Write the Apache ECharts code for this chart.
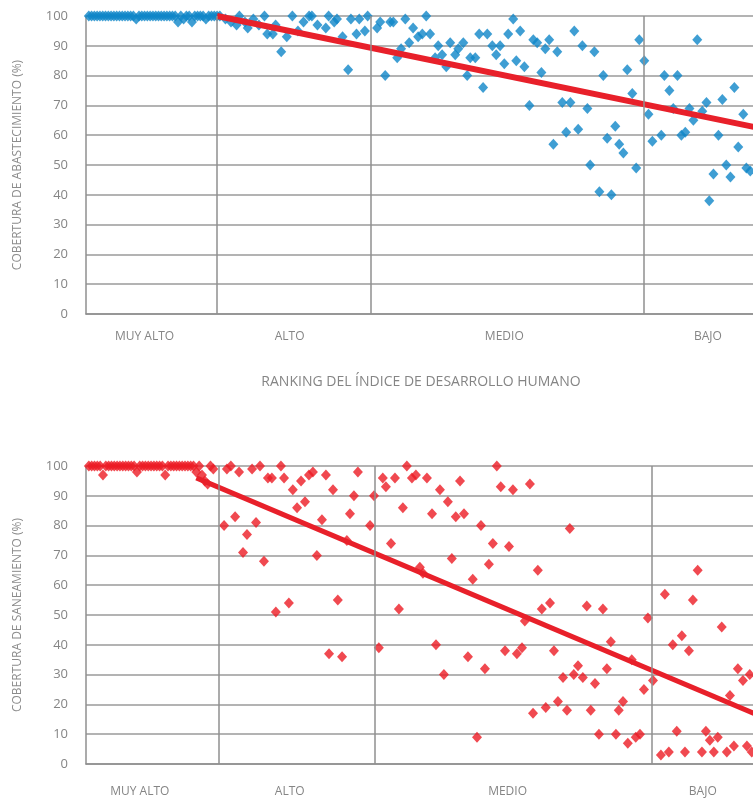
<!DOCTYPE html>
<html>
<head>
<meta charset="utf-8">
<script src="https://cdn.jsdelivr.net/npm/echarts@6/dist/echarts.min.js"></script>
<style>
  html, body { margin: 0; padding: 0; background: #ffffff; }
  #chart { width: 753px; height: 800px; }
</style>
</head>
<body>
<div id="chart"></div>
<script>
// HDI groups along the ranking axis
const categoryNames = ['MUY ALTO', 'ALTO', 'MEDIO', 'BAJO'];
const groupBreaks = [47, 102, 200];
const rankMax = 246;

// label anchor (rank) for each HDI group, per panel
const abastLabelRanks = [21, 73, 150, 223];
const saneaLabelRanks = [19, 72, 149, 218];

// Water supply coverage (%) — very high HDI, ranks 1..47
const abastMuyAlto = [100,100,100,100,100,100,100,100,100,100,100,100,100,100,100,100,100,99,
  100,100,100,100,100,100,100,100,100,100,100,100,100,100,98,100,99,100,100,98,100,100,100,100,99,
  100,100,100,100];
// [rank, coverage]
const abastAlto = [[48,100],[50,99],[52,98],[54,97],[55,100],[57,98],[58,96],[60,99],[62,97],[64,100],
  [65,94],[67,94],[68,97],[70,88],[72,93],[74,100],[76,95],[78,98],[80,100],[81,100],[83,97],[86,96],
  [87,100],[89,98],[90,99],[92,93],[94,82],[95,99],[97,94],[98,99],[100,95],[101,100]];
const abastMedio = [[104.4,96],[105.5,98],[107.3,80],[109.1,98],[110.2,98],[111.6,86],[113,89],[114.5,99],
  [115.9,91],[117.3,96],[119.1,93],[120.6,94],[122,100],[123.4,94],[125.2,86],[126.3,90],[127.7,87],
  [129.2,83],[130.6,91],[132.4,87],[133.5,89],[135.3,91],[136.7,80],[137.8,86],[139.6,86],[141,94],
  [142.4,76],[143.9,94],[145.7,90],[147.1,87],[148.5,90],[150,84],[151.4,94],[153.2,99],[154.3,85],
  [155.7,95],[157.2,83],[159,70],[160.4,92],[161.8,91],[163.3,81],[164.7,89],[166.1,92],[167.6,57],
  [169,88],[170.8,71],[172.2,61],[173.7,71],[175.1,95],[176.5,62],[178,90],[179.8,69],[180.8,50],
  [182.3,88],[184.1,41],[185.5,80],[186.9,59],[188.4,40],[189.8,63],[191.2,57],[192.7,54],[194.1,82],
  [195.9,74],[197.3,49],[198.4,92]];
const abastBajo = [[200.2,85],[201.7,67],[203.1,58],[206.3,60],[207.4,80],[209.2,75],[210.6,69],
  [212.1,80],[213.5,60],[214.9,61],[216.4,69],[217.8,65],[219.2,92],[221,68],[222.5,71],[223.5,38],
  [225,47],[226.8,60],[228.2,72],[229.6,50],[231.1,46],[232.5,76],[233.9,56],[235.7,67],[236.8,49],
  [238.2,48]];
// linear trend endpoints
const abastTrendRank = [47, 246];
const abastTrendValue = [100, 61.5];

// Sanitation coverage (%) — very high HDI, ranks 1..45
const saneaMuyAlto = [100,100,100,100,100,97,100,100,100,100,100,100,100,100,100,100,100,98,
  100,100,100,100,100,100,100,100,100,97,100,100,100,100,100,100,100,100,100,100,98,100,97,95,94,100,99];
const saneaAlto = [[48.8,80],[49.8,99],[51.2,100],[52.7,83],[54.1,98],[55.5,71],[56.9,77],[58.7,99],
  [60.1,81],[61.5,100],[62.9,68],[64.3,96],[65.7,96],[67.1,51],[68.9,100],[70,96],[71.7,54],[73.1,92],
  [74.6,86],[76,95],[77.4,88],[78.8,97],[80.2,98],[81.6,70],[83.4,82],[84.8,97],[85.9,37],[87.3,92],
  [89,55],[90.5,36],[92.2,75],[93.3,84],[94.7,90],[96.1,98],[100.4,80],[101.8,90]];
const saneaMedio = [[103.5,39],[104.9,96],[106,93],[107.8,74],[109.2,96],[110.6,52],[112,86],[113.4,100],
  [115.2,96],[116.6,97],[118,66],[119.1,64],[120.5,96],[122.3,84],[123.7,40],[125.1,92],[126.5,30],
  [127.9,88],[129.3,69],[130.7,83],[132.2,95],[133.6,84],[135,36],[136.7,62],[138.2,9],[139.6,80],
  [141,32],[142.4,67],[143.8,74],[145.2,100],[146.6,93],[148.1,38],[149.5,73],[150.9,92],[152.3,37],
  [154.1,39],[155.1,48],[156.9,94],[158,17],[159.7,65],[161.1,52],[162.5,19],[164,54],[165.4,38],
  [166.8,21],[168.6,29],[170,18],[171,79],[172.4,30],[173.9,33],[175.6,29],[177,53],[178.4,18],
  [179.9,27],[181.3,10],[182.7,52],[184.1,32],[185.5,41],[187.3,10],[188.3,18],[189.8,21],[191.5,7],
  [192.9,35],[194.3,9],[195.8,10],[197.2,25],[198.6,49],[200.4,28]];
const saneaBajo = [[203.2,3],[204.6,57],[206,4],[207.4,40],[208.8,11],[210.6,43],[211.7,4],[213.1,38],
  [214.5,55],[216.2,65],[217.7,4],[219.1,11],[220.5,8],[221.9,4],[223.3,9],[224.7,46],[226.5,4],
  [227.6,23],[229,6],[230.4,32],[232.2,28],[233.6,6],[234.6,30],[235.3,4]];
const saneaTrendRank = [39, 246];
const saneaTrendValue = [96, 13];

const FONT = 'Open Sans';
const GRID_COLOR = '#9a9a9a';
const TEXT_COLOR = '#858585';

function withRanks(values) {
  return values.map((v, i) => [i + 1, v]);
}
function pairs(xs, ys) {
  return xs.map((x, i) => [x, ys[i]]);
}

function buildPanel(idx, opt) {
  const xAxis = {
    gridIndex: idx, type: 'value', min: 0, max: rankMax,
    axisLine: { show: true, onZero: false, lineStyle: { color: '#8f8f8f', width: 1.5 } },
    axisTick: { show: false },
    splitLine: { show: false },
    axisLabel: {
      customValues: opt.labelRanks,
      formatter: v => categoryNames[opt.labelRanks.indexOf(v)] || '',
      color: TEXT_COLOR, fontSize: 12, fontFamily: FONT, margin: opt.labelMargin
    }
  };
  if (opt.xName) {
    Object.assign(xAxis, {
      name: opt.xName, nameLocation: 'middle', nameGap: 61,
      nameTextStyle: { color: TEXT_COLOR, fontSize: 14, fontFamily: FONT, padding: [0, 16, 0, 0] }
    });
  }
  const yAxis = {
    gridIndex: idx, type: 'value', min: 0, max: 100, interval: 10,
    axisLine: { show: true, lineStyle: { color: '#8f8f8f', width: 1.5 } },
    axisTick: { show: false },
    splitLine: { show: true, lineStyle: { color: GRID_COLOR, width: 1.5 } },
    axisLabel: { color: TEXT_COLOR, fontSize: 13, fontFamily: FONT, margin: 18 },
    name: opt.yName, nameLocation: 'middle', nameRotate: 90, nameGap: 62,
    nameTextStyle: { color: '#8c8c8c', fontSize: 12, fontFamily: FONT }
  };
  const series = [
    {
      // vertical separators between HDI groups
      type: 'line', xAxisIndex: idx, yAxisIndex: idx, data: [], silent: true, z: 1,
      markLine: {
        silent: true, symbol: ['none', 'none'], label: { show: false },
        lineStyle: { color: '#8f8f8f', width: 1.5, type: 'solid' },
        data: groupBreaks.map(b => ({ xAxis: b }))
      }
    },
    {
      type: 'scatter', xAxisIndex: idx, yAxisIndex: idx, z: 3,
      symbol: 'diamond', symbolSize: [10, 11],
      itemStyle: { color: opt.color },
      data: opt.points
    },
    {
      type: 'line', xAxisIndex: idx, yAxisIndex: idx, z: 4,
      symbol: 'none', silent: true,
      lineStyle: { color: '#e8202a', width: opt.trendWidth },
      data: opt.trend
    }
  ];
  return { xAxis, yAxis, series };
}

const abastPanel = buildPanel(0, {
  labelRanks: abastLabelRanks,
  labelMargin: 17,
  xName: 'RANKING DEL ÍNDICE DE DESARROLLO HUMANO',
  yName: 'COBERTURA DE ABASTECIMIENTO (%)',
  color: '#0f86c8',
  points: withRanks(abastMuyAlto).concat(abastAlto, abastMedio, abastBajo),
  trend: pairs(abastTrendRank, abastTrendValue),
  trendWidth: 6
});
const saneaPanel = buildPanel(1, {
  labelRanks: saneaLabelRanks,
  labelMargin: 22,
  yName: 'COBERTURA DE SANEAMIENTO (%)',
  color: '#ec1c24',
  points: withRanks(saneaMuyAlto).concat(saneaAlto, saneaMedio, saneaBajo),
  trend: pairs(saneaTrendRank, saneaTrendValue),
  trendWidth: 5
});

const chart = echarts.init(document.getElementById('chart'), null, { renderer: 'canvas' });
chart.setOption({
  animation: false,
  backgroundColor: '#ffffff',
  grid: [
    { left: 86, top: 16, width: 686, height: 298, outerBoundsMode: 'none' },
    { left: 86, top: 466, width: 696, height: 298, outerBoundsMode: 'none' }
  ],
  xAxis: [abastPanel.xAxis, saneaPanel.xAxis],
  yAxis: [abastPanel.yAxis, saneaPanel.yAxis],
  series: abastPanel.series.concat(saneaPanel.series)
});
</script>
</body>
</html>
